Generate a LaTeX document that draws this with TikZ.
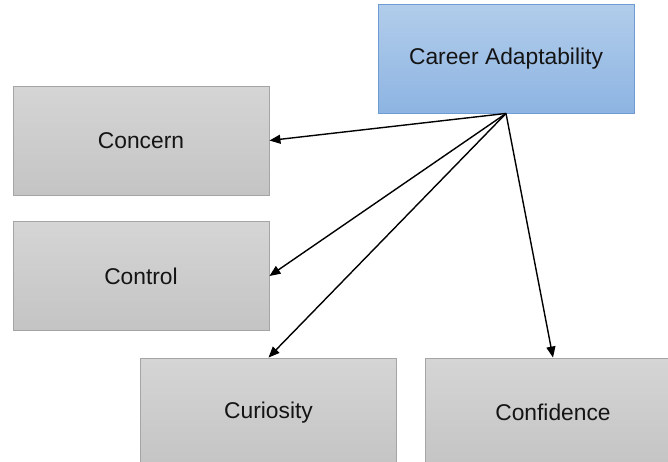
\documentclass[tikz,border=0pt]{standalone}
\usepackage{fontspec}
\setmainfont{Liberation Sans}
\usetikzlibrary{arrows.meta}
\definecolor{bluetop}{RGB}{178,205,235}
\definecolor{bluebot}{RGB}{141,180,226}
\definecolor{blueedge}{RGB}{110,155,210}
\definecolor{graytop}{RGB}{213,213,213}
\definecolor{graybot}{RGB}{196,196,196}
\definecolor{grayedge}{RGB}{165,165,165}
\tikzset{
  basebox/.style={rectangle, minimum width=256pt, minimum height=109pt, inner sep=0pt,
    font=\fontsize{22.8}{27}\selectfont, text=black!92, line width=0.9pt},
  bluebox/.style={basebox, draw=blueedge, top color=bluetop, bottom color=bluebot},
  graybox/.style={basebox, draw=grayedge, top color=graytop, bottom color=graybot},
  conn/.style={line width=1.4pt, -{Triangle[length=11pt,width=9pt]}}
}
\begin{document}
\begin{tikzpicture}[x=1pt,y=-1pt]
\clip (0,0) rectangle (668,461);
\node[bluebox] (ca) at (506,58.5) {Career Adaptability};
\node[graybox] (concern) at (141,140.5) {Concern};
\node[graybox] (control) at (141,276) {Control};
\node[graybox] (curiosity) at (268.5,412.5) {Curiosity};
\node[graybox] (confidence) at (553,412.5) {Confidence};
\draw[conn] (ca.south) -- (concern.east);
\draw[conn] (ca.south) -- (control.east);
\draw[conn] (ca.south) -- (curiosity.north);
\draw[conn] (ca.south) -- (confidence.north);
\end{tikzpicture}
\end{document}
